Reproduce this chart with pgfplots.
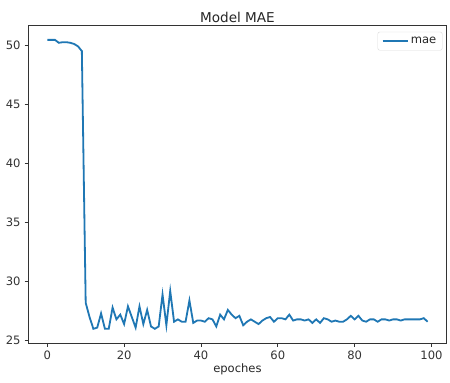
\documentclass[border={2bp 4bp 3bp 8bp}]{standalone}
\usepackage{pgfplots}
\pgfplotsset{compat=1.18}
\usepackage{fontspec}
\setmainfont{DejaVu Sans}
\definecolor{mplblue}{HTML}{1F77B4}
\begin{document}
\fontsize{11.5bp}{13bp}\selectfont
\begin{tikzpicture}
\begin{axis}[
  scale only axis,
  width=416bp, height=316bp,
  xmin=-4.95, xmax=103.95,
  ymin=24.78, ymax=51.67,
  xtick={0,20,40,60,80,100},
  ytick={25,30,35,40,45,50},
  tick align=outside,
  tick pos=left,
  major tick length=3.6bp,
  tick style={black!80, line width=0.7bp},
  axis line style={black!80, line width=0.7bp},
  /pgf/number format/assume math mode=true,
  ticklabel style={font=\fontsize{11.5bp}{13bp}\selectfont, text=black!80},
  title={Model MAE},
  title style={font=\fontsize{13.5bp}{15bp}\selectfont, yshift=-7bp, text=black!85},
  xlabel={epoches},
  xlabel style={font=\fontsize{11.5bp}{13bp}\selectfont, yshift=4bp, text=black!85},
  legend style={draw=black!15, rounded corners=2bp, font=\fontsize{11.5bp}{13bp}\selectfont, at={(0.99,0.98)}, anchor=north east, inner xsep=4bp, inner ysep=3bp, text=black!85},
  legend cell align=left,
  legend image code/.code={\draw[#1, line width=1.8bp] (0bp,0bp) -- (25bp,0bp);},
]
\addplot[mplblue, line width=1.8bp] coordinates {
(0,50.45)(1,50.45)(2,50.45)(3,50.2)(4,50.25)(5,50.25)(6,50.2)(7,50.1)(8,49.9)(9,49.5)
(10,28.2)(11,27.0)(12,26.0)(13,26.1)(14,27.3)(15,26.0)(16,26.0)(17,27.8)(18,26.8)(19,27.2)
(20,26.4)(21,27.9)(22,27.0)(23,26.1)(24,27.9)(25,26.4)(26,27.6)(27,26.2)(28,26.0)(29,26.2)
(30,28.9)(31,26.3)(32,29.2)(33,26.6)(34,26.8)(35,26.6)(36,26.6)(37,28.4)(38,26.5)(39,26.7)
(40,26.7)(41,26.6)(42,26.9)(43,26.8)(44,26.2)(45,27.2)(46,26.8)(47,27.6)(48,27.2)(49,26.9)
(50,27.1)(51,26.3)(52,26.6)(53,26.8)(54,26.6)(55,26.4)(56,26.7)(57,26.9)(58,27.0)(59,26.6)
(60,26.9)(61,26.9)(62,26.8)(63,27.2)(64,26.7)(65,26.8)(66,26.8)(67,26.7)(68,26.8)(69,26.5)
(70,26.8)(71,26.5)(72,26.9)(73,26.8)(74,26.6)(75,26.7)(76,26.6)(77,26.6)(78,26.8)(79,27.1)
(80,26.8)(81,27.1)(82,26.7)(83,26.6)(84,26.8)(85,26.8)(86,26.6)(87,26.8)(88,26.8)(89,26.7)
(90,26.8)(91,26.8)(92,26.7)(93,26.8)(94,26.8)(95,26.8)(96,26.8)(97,26.8)(98,26.9)(99,26.6)
};
\addlegendentry{mae}
\end{axis}
\end{tikzpicture}
\end{document}
